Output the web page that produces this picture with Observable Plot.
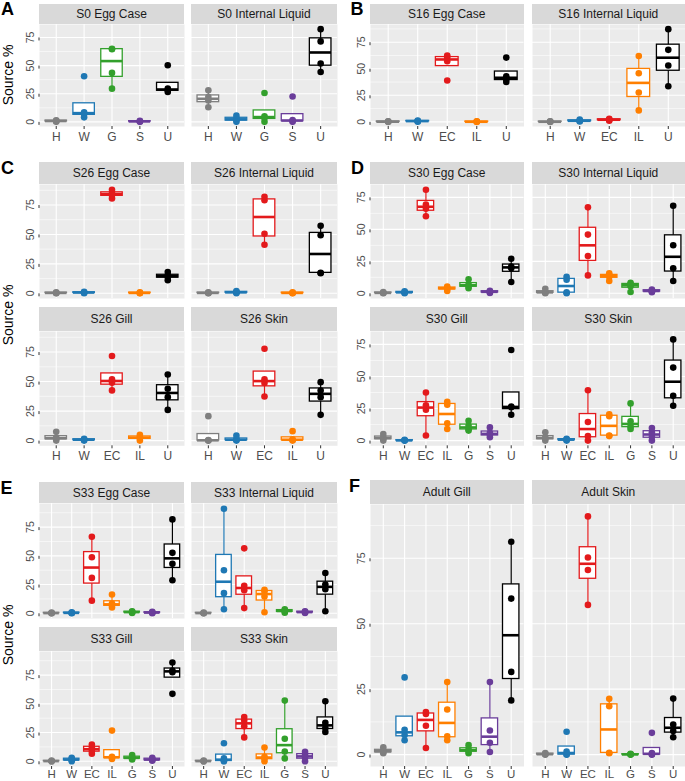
<!DOCTYPE html>
<html><head><meta charset="utf-8">
<script src="https://cdn.jsdelivr.net/npm/d3@7"></script>
<script src="https://cdn.jsdelivr.net/npm/@observablehq/plot@0.6"></script>
<style>
body{margin:0;background:#fff;}
#fig{position:relative;width:685px;height:781px;overflow:hidden;font-family:"Liberation Sans",Arial,Helvetica,sans-serif;background:#fff;}
.strip{position:absolute;background:#d9d9d9;color:#1a1a1a;font-size:12px;display:flex;align-items:center;justify-content:center;white-space:nowrap;}
.letter{position:absolute;font-weight:bold;font-size:18px;color:#000;line-height:1;}
.ytitle{position:absolute;font-size:14px;color:#000;white-space:nowrap;line-height:1;transform:translate(-50%,-50%) rotate(-90deg);}
.pnl{position:absolute;}
</style></head><body><div id="fig"></div>
<script>
// Source categories and their colours
const CATEGORIES = ["H","W","EC","IL","G","S","U"];
const CAT_COLORS = ["#7f7f7f","#1f78b4","#e31a1c","#ff7f00","#33a02c","#6a3d9a","#000000"];
const CATS_A = ["H","W","G","S","U"];
const CATS_BC = ["H","W","EC","IL","U"];
const CATS_DEF = ["H","W","EC","IL","G","S","U"];
const Y_TICKS = [0,25,50,75,100];
const Y_MINOR = [12.5,37.5,62.5,87.5];

// Replicate values (Source %) per panel: [category, v1, v2, v3, v4]
const S0_EGG_CASE = [["H",0,0.5,1,1.5],["W",4,7,8.5,40.5],["G",29.5,43.5,64.5,65],["S",0,0.3,0.5,1],["U",26.5,28,29.5,50.3]];
const S0_INTERNAL_LIQUID = [["H",13,19,22,28],["W",0,1.5,3,5.5],["G",0,3.5,5,25.6],["S",0,0.8,1.6,22.6],["U",44.3,51.8,71.5,82.4]];
const S16_EGG_CASE = [["H",0,0,0.3,0.6],["W",0.2,0.6,0.8,1.2],["EC",39,57,60.5,62.5],["IL",0,0,0.2,0.5],["U",37.5,40,43,60.5]];
const S16_INTERNAL_LIQUID = [["H",0,0,0.2,0.5],["W",0.3,0.8,1.2,2.2],["EC",1,1.8,2.2,3],["IL",10.8,27.6,45.8,62],["U",33.5,53,67.8,87.3]];
const S26_EGG_CASE = [["H",0,0.2,0.5,0.8],["W",0,0.5,0.8,1.2],["EC",80.6,83.5,85,88],["IL",0,0.2,0.5,0.8],["U",11.2,14,15,18]];
const S26_INTERNAL_LIQUID = [["H",0,0.2,0.5,0.8],["W",0,0.6,1,2],["EC",41.3,50.6,79,82],["IL",0,0.2,0.5,0.8],["U",17,17.5,49.3,57.3]];
const S26_GILL = [["H",0,1.5,2.5,7.5],["W",0,0.5,1,1.5],["EC",42.5,49,52,71.6],["IL",0,2,3,5],["U",26,36.8,43.9,56]];
const S26_SKIN = [["H",0,0,0.5,20.7],["W",0,0.5,1,4.2],["EC",37.4,48.8,52,77.8],["IL",0,0.5,1,8],["U",21.8,36.8,42.4,49.5]];
const S30_EGG_CASE = [["H",0,0.2,0.5,1],["W",0,0.5,1,1.5],["EC",60.2,66,69.3,81],["IL",1.8,3.5,4.3,5.2],["G",4,5.5,7,10.9],["S",0.3,0.8,1.5,2],["U",8.8,19.5,21,27]];
const S30_INTERNAL_LIQUID = [["H",0,0.5,1,3.6],["W",0,0.7,10.7,13],["EC",14,29.1,45.9,67.2],["IL",9.6,13,14,15.6],["G",1,5.5,7,8.3],["S",0.8,1.5,2.2,3],["U",9.6,19.5,37.6,68.5]];
const S30_GILL = [["H",0,1.5,2.5,5.2],["W",0,0,0.3,0.6],["EC",4,24,27.5,37.5],["IL",9,13.5,28,30.3],["G",7.8,9,11.5,15.5],["S",2.6,4.5,6,10.3],["U",20.2,26,26.5,70.6]];
const S30_SKIN = [["H",0,1.5,2.5,6.5],["W",0,0.5,1,1.5],["EC",0,3.5,14.5,39.3],["IL",3.5,4,19,20.5],["G",9,11,15,29],["S",0,3,6.5,9.8],["U",27.2,34.9,56.9,78.9]];
const S33_EGG_CASE = [["H",0,0,0.3,0.6],["W",0,0.2,0.5,0.8],["EC",11,30.8,48.8,66.6],["IL",5,7,8.5,16.3],["G",0.3,0.8,1.2,1.8],["S",0,0.4,0.8,1.2],["U",28.8,43,52.6,81.7]];
const S33_INTERNAL_LIQUID = [["H",0,0,0.3,0.6],["W",3.5,17.5,37.4,91],["EC",4.5,20,24,56.5],["IL",0.9,14.5,19,20.5],["G",0.5,1.5,2.5,3.5],["S",0.3,0.8,1.2,1.8],["U",1.8,21,25,35]];
const S33_GILL = [["H",0,0,0.3,0.6],["W",0,1,2,3],["EC",6.5,9,12,14.5],["IL",2,3,4,26.7],["G",1.5,2.5,3.5,5.5],["S",0.5,1,2,3],["U",58.7,77.5,79,86]];
const S33_SKIN = [["H",0,0,0.3,0.6],["W",0,0.3,2.5,15.7],["EC",20.8,30.5,35.5,38.5],["IL",0,2.5,4,11.9],["G",2.5,8.5,19.6,52.8],["S",0,3,5.5,8.3],["U",25.5,29,33.5,52.2]];
const ADULT_GILL = [["H",0.5,1,1.5,2.8],["W",5.5,7.5,9.5,29.5],["EC",2.5,11,15.5,16.3],["IL",5.5,7,17.2,27.7],["G",0.5,1.3,2,3.6],["S",1,4.5,9.2,27.7],["U",20.7,31.6,59.6,81.3]];
const ADULT_SKIN = [["H",0,0,0.3,0.6],["W",0,0,1.2,8.7],["EC",57.2,70.5,75.3,91],["IL",0.5,0.7,18.5,21.3],["G",0,0,0.1,0.3],["S",0,0,0.6,8.3],["U",6.6,9,11.5,21.4]];

// Layout of the six sub-figures (pixel geometry only)
const COLS_L = [[39,184],[191,337]];
const COLS_R = [[370,523.5],[531.5,685]];
const figures = [
  {letter:"A", lx:1, capTop:2.4, cats:CATS_A, cols:COLS_L, rows:[[4,24,126]], title:[7.5,75],
   panels:[["S0 Egg Case",S0_EGG_CASE],["S0 Internal Liquid",S0_INTERNAL_LIQUID]]},
  {letter:"B", lx:350.5, capTop:2.5, cats:CATS_BC, cols:COLS_R, rows:[[4,24,126]],
   panels:[["S16 Egg Case",S16_EGG_CASE],["S16 Internal Liquid",S16_INTERNAL_LIQUID]]},
  {letter:"C", lx:1, capTop:161.5, cats:CATS_BC, cols:COLS_L, rows:[[161.7,184.3,298.3],[306.7,330.7,445]], title:[7.5,314.5],
   panels:[["S26 Egg Case",S26_EGG_CASE],["S26 Internal Liquid",S26_INTERNAL_LIQUID],["S26 Gill",S26_GILL],["S26 Skin",S26_SKIN]]},
  {letter:"D", lx:351, capTop:161, cats:CATS_DEF, cols:COLS_R, rows:[[161.7,184.3,298.3],[306.7,330.7,445]],
   panels:[["S30 Egg Case",S30_EGG_CASE],["S30 Internal Liquid",S30_INTERNAL_LIQUID],["S30 Gill",S30_GILL],["S30 Skin",S30_SKIN]]},
  {letter:"E", lx:0.5, capTop:481.7, cats:CATS_DEF, cols:COLS_L, rows:[[482.3,503.3,618.3],[627,651,766]], title:[7.5,634.5], tight:true,
   panels:[["S33 Egg Case",S33_EGG_CASE],["S33 Internal Liquid",S33_INTERNAL_LIQUID],["S33 Gill",S33_GILL],["S33 Skin",S33_SKIN]]},
  {letter:"F", lx:349, capTop:479.3, cats:CATS_DEF, cols:COLS_R, rows:[[480,504,766]], tight:true,
   panels:[["Adult Gill",ADULT_GILL],["Adult Skin",ADULT_SKIN]]}
];

const fig = document.getElementById("fig");
const sorted = v => v.slice().sort(d3.ascending);
const quant = p => v => d3.quantile(sorted(v), p);
const whiskLo = v => { const s = sorted(v), q1 = d3.quantile(s,.25), q3 = d3.quantile(s,.75); const f = q1 - 1.5*(q3-q1); return d3.min(s.filter(x => x >= f)); };
const whiskHi = v => { const s = sorted(v), q1 = d3.quantile(s,.25), q3 = d3.quantile(s,.75); const f = q3 + 1.5*(q3-q1); return d3.max(s.filter(x => x <= f)); };

function addDiv(cls, text, style) {
  const d = document.createElement("div");
  d.className = cls; d.textContent = text;
  Object.assign(d.style, style);
  fig.appendChild(d);
  return d;
}

for (const F of figures) {
  const all = F.panels.flatMap(p => p[1].flatMap(r => r.slice(1)));
  const mx = d3.max(all), mn = Math.min(0, d3.min(all));
  const pad = (mx - mn) * 0.05;
  const domain = [mn - pad, mx + pad];
  const nRows = F.rows.length;
  addDiv("letter", F.letter, {left: F.lx + "px", top: Math.max(0, F.capTop - 2.35) + "px"});
  if (F.title) addDiv("ytitle", "Source %", {left: F.title[0] + "px", top: F.title[1] + "px"});
  F.panels.forEach(([name, rows], i) => {
    const r = Math.floor(i / 2), c = i % 2;
    const [x0, x1] = F.cols[c];
    const [sTop, pTop, pBot] = F.rows[r];
    const showY = c === 0, showX = r === nRows - 1;
    addDiv("strip", name, {left: x0 + "px", top: sTop + "px", width: (x1 - x0) + "px", height: (pTop - sTop) + "px"});
    const data = rows.flatMap(([cat, ...vs]) => vs.map(v => ({c: cat, v})));
    const mL = 40, mR = 2, mT = 2, mB = F.tight ? 13 : 26;
    const major = Y_TICKS.filter(t => t >= domain[0] && t <= domain[1]);
    const minor = Y_MINOR.filter(t => t >= domain[0] && t <= domain[1]);
    const marks = [
      Plot.frame({fill: "#ebebeb", stroke: "none"}),
      Plot.gridY(minor, {stroke: "#fff", strokeOpacity: 1, strokeWidth: 0.55}),
      Plot.gridY(major, {stroke: "#fff", strokeOpacity: 1, strokeWidth: 1.1}),
      Plot.gridX(F.cats, {stroke: "#fff", strokeOpacity: 1, strokeWidth: 1.1}),
      Plot.ruleX(data, Plot.groupX({y1: whiskLo, y2: whiskHi}, {x: "c", y: "v", stroke: "c", strokeWidth: 1.2})),
      Plot.barY(data, Plot.groupX({y1: quant(0.25), y2: quant(0.75)}, {x: "c", y: "v", fill: "#fff", stroke: "c", strokeWidth: 1.3})),
      Plot.tickY(data, Plot.groupX({y: quant(0.5)}, {x: "c", y: "v", stroke: "c", strokeWidth: 2.6})),
      Plot.dot(data, {x: "c", y: "v", fill: "c", r: 3.3})
    ];
    if (showY) marks.push(Plot.axisY(major, {tickSize: 3, tickPadding: 6, rotate: -90, textAnchor: "middle", fontSize: 10.5, stroke: "#333", fill: "#4d4d4d", label: null}));
    if (showX) marks.push(Plot.axisX({tickSize: 3, tickPadding: F.tight ? 0.5 : 2.5, fontSize: F.tight ? 11.5 : 12, stroke: "#333", fill: "#4d4d4d", label: null}));
    const svg = Plot.plot({
      width: (x1 - x0) + mL + mR, height: (pBot - pTop) + mT + mB,
      marginLeft: mL, marginRight: mR, marginTop: mT, marginBottom: mB,
      x: {type: "band", domain: F.cats, paddingInner: 0.23, paddingOuter: 0.215, align: 0.5, round: false, axis: showX ? undefined : null},
      y: {domain, axis: showY ? undefined : null},
      color: {type: "ordinal", domain: CATEGORIES, range: CAT_COLORS},
      style: {background: "transparent", overflow: "visible", fontFamily: "'Liberation Sans', Arial, sans-serif"},
      marks
    });
    svg.classList.add("pnl");
    svg.style.left = (x0 - mL) + "px";
    svg.style.top = (pTop - mT) + "px";
    svg.style.maxWidth = "none";
    fig.appendChild(svg);
  });
}
</script></body></html>
